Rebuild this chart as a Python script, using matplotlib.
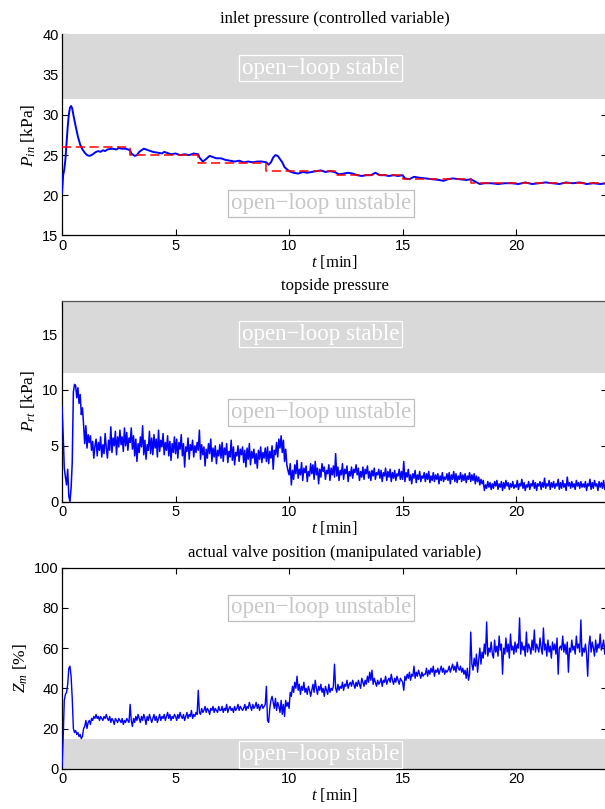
import numpy as np
import matplotlib
matplotlib.use("Agg")
import matplotlib.pyplot as plt

plt.rcParams['font.family'] = ['Liberation Sans', 'DejaVu Sans']
plt.rcParams['mathtext.fontset'] = 'custom'
plt.rcParams['mathtext.rm'] = 'Liberation Serif'
plt.rcParams['mathtext.it'] = 'Liberation Serif:italic'

# ---------------- data ----------------
titles = ["inlet pressure (controlled variable)", "topside pressure",
          "actual valve position (manipulated variable)"]
ylabels = ["$P_{in}$ [kPa]", "$P_{rt}$ [kPa]", "$Z_m$ [%]"]

# panel 1: inlet pressure (measured)
t_pin = [0.0, 0.05, 0.1, 0.15, 0.2, 0.25, 0.3, 0.35, 0.4, 0.45, 0.5, 0.6, 0.7, 0.8, 0.9,
         1.0, 1.1, 1.2, 1.3, 1.4, 1.5, 1.6, 1.7, 1.8, 1.9, 2.0, 2.2, 2.4, 2.5, 2.6, 2.8, 2.9,
         3.0, 3.05, 3.2, 3.3, 3.4, 3.6, 3.7, 3.8, 4.0, 4.2, 4.4, 4.5, 4.6, 4.8, 5.0, 5.2,
         5.4, 5.6, 5.8, 6.0, 6.05, 6.2, 6.3, 6.5, 6.6, 6.8, 7.0, 7.2, 7.4, 7.6, 7.8, 8.0,
         8.2, 8.4, 8.6, 8.8, 9.0, 9.1, 9.2, 9.3, 9.4, 9.5, 9.6, 9.7, 9.8, 10.0, 10.2, 10.4,
         10.6, 10.8, 11.0, 11.2, 11.4, 11.6, 11.8, 12.0, 12.2, 12.4, 12.6, 12.8, 13.0, 13.2,
         13.4, 13.6, 13.8, 14.0, 14.2, 14.4, 14.6, 14.8, 15.0, 15.1, 15.3, 15.5, 15.7, 16.0,
         16.3, 16.6, 16.8, 17.0, 17.2, 17.5, 17.8, 18.0, 18.2, 18.4, 18.6, 18.9, 19.2, 19.5,
         19.8, 20.1, 20.4, 20.7, 21.0, 21.3, 21.6, 21.9, 22.2, 22.5, 22.8, 23.1, 23.4, 23.7, 24.0]
p_in = [20.3, 22.5, 23.2, 24.5, 26.5, 28.5, 30.0, 30.9, 31.1, 30.8, 30.0, 28.6, 27.3, 26.3, 25.7,
        25.3, 25.0, 24.9, 25.0, 25.2, 25.4, 25.5, 25.4, 25.6, 25.5, 25.7, 25.8, 25.7, 25.9, 25.8, 25.8, 25.7,
        25.6, 25.2, 24.9, 25.0, 25.4, 25.8, 25.7, 25.6, 25.4, 25.3, 25.2, 25.4, 25.3, 25.1, 25.2, 25.0,
        25.1, 25.0, 25.2, 25.1, 24.7, 24.2, 24.4, 24.9, 24.8, 24.6, 24.6, 24.4, 24.3, 24.2, 24.3, 24.1,
        24.2, 24.1, 24.2, 24.2, 24.1, 23.8, 24.1, 24.7, 25.0, 24.9, 24.5, 24.1, 23.5, 23.0, 22.8, 22.7,
        22.9, 22.8, 22.9, 23.0, 23.1, 22.9, 23.0, 22.9, 22.6, 22.7, 22.8, 22.7, 22.5, 22.4,
        22.5, 22.5, 22.8, 22.5, 22.5, 22.4, 22.5, 22.4, 22.5, 22.1, 22.0, 22.3, 22.2, 22.1,
        22.0, 21.9, 21.8, 22.0, 22.1, 22.0, 21.9, 22.0, 21.7, 21.4, 21.5, 21.5, 21.4, 21.5,
        21.5, 21.4, 21.6, 21.4, 21.5, 21.6, 21.5, 21.4, 21.6, 21.5, 21.6, 21.4, 21.5, 21.4, 21.5]

# panel 1: setpoint (piecewise constant)
t_sp = [0, 3, 6, 9, 12, 15, 18, 24]
p_sp = [26, 25, 24, 23, 22.5, 22, 21.5, 21.5]

# panels 2 & 3: sampled every 0.05 min from 0 to 24 (20 readings per minute)
t_samp = np.round(np.arange(0, 24.001, 0.05), 3)
p_rt = [8.5, 6.0, 3.0, 2.2, 1.5, 2.9, 0.5, 0.0, 1.2, 3.5, 9.8, 10.5, 10.4, 9.3, 10.2, 8.8, 9.6, 7.8, 8.4, 6.9,
        5.2, 6.8, 4.8, 6.0, 5.3, 5.9, 4.6, 5.4, 3.9, 5.0, 5.6, 4.1, 5.3, 4.6, 5.8, 4.0, 5.1, 4.3, 6.1, 4.8,
        3.9, 5.5, 4.6, 6.7, 4.4, 5.7, 5.0, 6.3, 4.2, 5.8, 4.9, 6.4, 5.1, 5.8, 4.5, 6.6, 5.0, 6.2, 4.6, 5.7,
        5.3, 6.6, 4.7, 5.9, 4.1, 5.6, 3.6, 5.2, 4.4, 5.8, 4.9, 6.8, 4.2, 5.5, 3.8, 5.1, 4.6, 6.3, 4.3, 5.7,
        4.2, 6.0, 4.8, 5.6, 4.0, 6.4, 4.5, 5.5, 4.9, 6.1, 4.2, 5.3, 4.6, 5.9, 4.1, 5.4, 3.7, 5.2, 4.4, 5.8,
        4.3, 5.6, 3.9, 5.3, 4.7, 6.0, 4.1, 5.2, 3.1, 4.9, 4.5, 5.7, 3.8, 5.1, 4.6, 5.5, 4.0, 5.0, 4.4, 5.3,
        4.6, 6.4, 3.8, 5.1, 4.2, 4.9, 3.2, 4.7, 3.9, 5.2, 4.3, 5.6, 3.6, 4.8, 4.0, 5.0, 3.4, 4.6, 4.1, 5.1,
        3.9, 5.3, 3.6, 4.8, 4.2, 5.2, 3.5, 4.5, 4.0, 5.5, 3.7, 4.9, 3.3, 4.4, 4.1, 5.0, 3.6, 4.7, 4.2, 4.9,
        3.5, 4.6, 3.1, 4.8, 3.8, 5.2, 3.3, 4.5, 3.9, 4.7, 3.4, 4.3, 3.0, 4.6, 3.8, 4.9, 3.5, 4.4, 3.9, 4.8,
        3.6, 4.9, 3.4, 4.5, 3.9, 5.0, 2.9, 4.6, 4.2, 5.3, 4.0, 5.6, 4.8, 5.9, 4.4, 5.5, 3.6, 4.7, 3.3, 2.8,
        2.4, 3.4, 1.5, 2.8, 2.0, 3.3, 2.5, 3.7, 2.1, 2.9, 2.4, 3.5, 1.9, 3.0, 2.6, 3.2, 1.8, 2.7, 2.3, 3.4,
        2.5, 3.3, 2.0, 3.6, 2.4, 3.0, 1.6, 2.9, 2.2, 3.4, 2.7, 3.1, 2.0, 2.8, 2.5, 3.3, 1.9, 3.0, 2.4, 3.2,
        2.2, 4.3, 2.3, 3.1, 1.9, 2.8, 2.4, 3.4, 2.0, 2.9, 2.5, 3.2, 1.8, 2.7, 2.3, 3.1, 2.1, 2.9, 2.6, 3.3,
        2.4, 3.0, 1.9, 2.7, 2.2, 3.1, 2.0, 2.9, 2.5, 3.2, 2.1, 2.7, 1.9, 2.8, 2.3, 3.0, 2.0, 2.6, 2.4, 2.9,
        2.1, 2.8, 1.8, 2.6, 2.3, 3.0, 1.9, 2.7, 2.2, 2.9, 1.8, 2.6, 2.1, 2.8, 1.9, 2.5, 2.3, 2.9, 2.0, 2.7,
        2.0, 3.6, 1.8, 2.6, 2.2, 2.9, 1.9, 2.4, 1.6, 2.5, 2.1, 2.8, 1.7, 2.4, 2.0, 2.7, 1.8, 2.3, 2.1, 2.6,
        1.8, 2.5, 2.0, 2.7, 1.7, 2.3, 1.9, 2.6, 1.8, 2.4, 2.0, 2.5, 1.6, 2.3, 1.9, 2.6, 1.8, 2.2, 2.0, 2.5,
        1.9, 2.6, 1.6, 2.4, 2.0, 2.7, 1.8, 2.5, 1.7, 2.3, 2.0, 2.6, 1.8, 2.4, 1.9, 2.5, 1.7, 2.3, 2.0, 2.6,
        1.8, 2.4, 1.9, 2.5, 1.6, 2.3, 1.8, 2.2, 1.5, 2.0, 1.6, 1.9, 1.0, 1.5, 1.2, 1.8, 1.3, 1.7, 1.1, 1.6,
        1.2, 1.8, 1.4, 1.9, 1.1, 1.6, 1.3, 1.8, 1.0, 1.7, 1.2, 1.9, 1.4, 1.7, 1.1, 1.6, 1.3, 1.8, 1.2, 1.5,
        1.3, 1.9, 1.1, 1.6, 1.4, 2.0, 1.2, 1.7, 1.0, 1.5, 1.3, 1.8, 1.1, 1.6, 1.4, 1.9, 1.2, 1.7, 1.0, 1.6,
        1.4, 1.8, 1.1, 1.7, 1.3, 2.1, 1.2, 1.6, 1.4, 1.9, 1.1, 1.7, 1.3, 1.8, 1.2, 1.6, 1.4, 2.0, 1.1, 1.7,
        1.2, 1.9, 1.3, 1.6, 1.0, 2.2, 1.4, 1.7, 1.2, 1.8, 1.3, 1.6, 1.1, 1.9, 1.4, 1.7, 1.2, 1.8, 1.3, 1.6,
        1.3, 1.8, 1.0, 1.6, 1.4, 2.0, 1.1, 1.7, 1.2, 1.9, 1.4, 1.6, 1.0, 1.8, 1.3, 1.7, 1.2, 1.9, 1.1, 1.6,
        1.4]
z_m = [1, 15, 34, 37, 38, 42, 50, 51, 46, 35, 20, 18, 19, 17, 18, 16, 17, 15, 16, 20,
       21, 24, 20, 23, 24, 22, 25, 24, 26, 25, 27, 25, 26, 24, 26, 25, 24, 26, 25, 27,
       25, 24, 26, 23, 25, 24, 22, 25, 24, 23, 25, 24, 23, 25, 22, 24, 23, 25, 24, 23,
       32, 24, 21, 25, 23, 26, 24, 27, 25, 23, 26, 24, 27, 25, 22, 26, 24, 27, 25, 23,
       25, 27, 24, 26, 23, 25, 27, 24, 26, 25, 27, 24, 26, 28, 25, 27, 24, 26, 25, 27,
       26, 24, 27, 25, 28, 26, 25, 27, 24, 26, 28, 25, 27, 26, 29, 25, 27, 26, 28, 27,
       39, 28, 27, 30, 28, 29, 31, 28, 30, 29, 27, 30, 29, 31, 28, 30, 29, 28, 31, 29,
       29, 31, 28, 30, 29, 32, 28, 30, 31, 29, 30, 28, 31, 29, 30, 32, 29, 31, 30, 29,
       30, 32, 29, 31, 30, 33, 31, 29, 32, 30, 31, 33, 30, 32, 29, 31, 32, 30, 31, 32,
       41, 24, 23, 30, 34, 36, 33, 30, 35, 29, 33, 31, 28, 34, 27, 32, 26, 34, 31, 33,
       30, 38, 36, 41, 38, 43, 40, 46, 39, 42, 37, 41, 39, 43, 38, 40, 37, 41, 39, 36,
       39, 42, 38, 44, 40, 37, 41, 39, 42, 38, 40, 36, 41, 39, 37, 42, 38, 40, 39, 41,
       52, 40, 38, 42, 39, 41, 40, 43, 39, 42, 41, 44, 40, 42, 43, 41, 44, 42, 40, 43,
       41, 44, 42, 40, 45, 43, 41, 44, 42, 46, 43, 48, 44, 49, 42, 45, 43, 41, 44, 42,
       43, 45, 41, 44, 43, 46, 42, 44, 45, 43, 47, 44, 42, 45, 43, 46, 44, 42, 45, 44,
       43, 39, 46, 44, 47, 45, 48, 44, 47, 46, 51, 45, 48, 46, 49, 47, 45, 48, 46, 47,
       47, 50, 46, 49, 47, 50, 48, 51, 46, 49, 48, 50, 47, 49, 51, 48, 50, 47, 49, 48,
       49, 51, 48, 50, 52, 49, 51, 48, 53, 50, 49, 51, 48, 50, 47, 49, 45, 50, 44, 47,
       68, 52, 49, 55, 51, 57, 48, 54, 60, 52, 58, 55, 62, 57, 73, 56, 60, 58, 63, 57,
       55, 64, 58, 61, 56, 66, 59, 62, 47, 60, 57, 65, 58, 62, 55, 67, 59, 61, 57, 63,
       58, 62, 60, 75, 57, 63, 59, 61, 56, 68, 58, 62, 60, 57, 64, 59, 69, 58, 62, 60,
       58, 65, 60, 57, 70, 59, 62, 56, 64, 58, 61, 55, 63, 59, 62, 57, 65, 47, 60, 61,
       59, 66, 58, 62, 57, 63, 48, 60, 58, 64, 59, 61, 57, 66, 60, 62, 58, 74, 56, 60,
       58, 62, 57, 46, 61, 66, 58, 63, 60, 56, 64, 58, 62, 60, 67, 59, 61, 64, 57, 63,
       61]

ylims = [(15, 40), (0, 18), (0, 100)]
yticks = [[15, 20, 25, 30, 35, 40], [0, 5, 10, 15], [0, 20, 40, 60, 80, 100]]
stable_regions = [(32, 40), (11.5, 18), (0, 15)]
stable_text_y = [35.8, 15.0, 7.0]
unstable_text_y = [19.0, 8.0, 80.0]
xticks = [0, 5, 10, 15, 20]

# ---------------- figure ----------------
fig = plt.figure(figsize=(6.05, 8.09), dpi=100)
bottoms = [0.7089, 0.3799, 0.0498]
serif = ['Liberation Serif', 'DejaVu Serif']
gray = '#d9d9d9'

axes = []
for i in range(3):
    ax = fig.add_axes([0.1025, bottoms[i], 0.9008, 0.2485])
    axes.append(ax)
    ax.set_xlim(0, 24)
    ax.set_ylim(*ylims[i])
    ax.set_xticks(xticks)
    ax.set_yticks(yticks[i])
    ax.tick_params(direction='in', top=True, right=True, length=4, width=0.8,
                   labelsize=10.5, pad=2.5, colors='black')
    lo, hi = stable_regions[i]
    ax.axhspan(lo, hi, color=gray, lw=0, zorder=2.6)
    for sp in ax.spines.values():
        sp.set_zorder(2.7)
        sp.set_linewidth(0.9)
    ax.set_title(titles[i], family=serif, fontsize=12, pad=8)
    ax.set_ylabel(ylabels[i], family=serif, fontsize=12.5, labelpad=3)
    ax.set_xlabel("$t$ [min]", family=serif, fontsize=12, labelpad=0)
    ax.text(11.4, stable_text_y[i], "open\u2212loop stable", family=serif, fontsize=16.5,
            color='white', ha='center', va='center', zorder=4,
            bbox=dict(boxstyle='square,pad=0.12', fc='none', ec='white', lw=0.9),
            clip_on=True)
    ax.text(11.4, unstable_text_y[i], "open\u2212loop unstable", family=serif, fontsize=16.5,
            color='#c8c8c8', ha='center', va='center', zorder=4,
            bbox=dict(boxstyle='square,pad=0.12', fc='white', ec='#bdbdbd', lw=0.9))

axes[0].spines['top'].set_visible(False)
axes[1].spines['top'].set_color('#555555')

# panel 1
axes[0].plot(t_pin, p_in, color='#0000ff', lw=1.4, zorder=2.8)
axes[0].step(t_sp, p_sp, where='post', color='#ff0000', lw=1.1, ls=(0, (6, 3)), zorder=2.9)
# panel 2
axes[1].plot(t_samp, p_rt, color='#0000ff', lw=1.1, zorder=2.8)
# panel 3
axes[2].plot(t_samp, z_m, color='#0000ff', lw=1.0, zorder=2.8)

fig.savefig("out.png", dpi=100)
